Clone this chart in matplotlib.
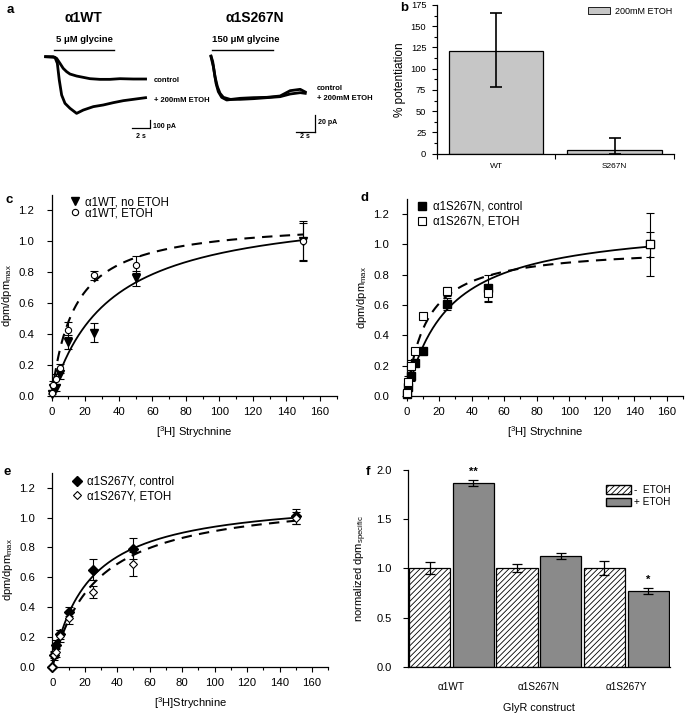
import numpy as np
import matplotlib
matplotlib.use("Agg")
import matplotlib.pyplot as plt
from matplotlib.patches import Patch

plt.rcParams['font.family'] = ['Liberation Sans', 'DejaVu Sans']
plt.rcParams['mathtext.fontset'] = 'custom'
plt.rcParams['mathtext.rm'] = 'Liberation Sans'
plt.rcParams['mathtext.it'] = 'Liberation Sans:italic'
plt.rcParams['mathtext.bf'] = 'Liberation Sans:bold'
plt.rcParams['hatch.linewidth'] = 0.6

# ---- panel a: current traces (time in s, current in pA) ----
wt_t_ctrl = [0, 0.87, 1.25, 1.63, 2.0, 2.39, 2.77, 3.52, 4.28, 5.04, 6.17, 7.31, 8.45, 9.96, 11.36]
wt_i_ctrl = [0, 0, -20, -80, -141, -181, -209, -233, -249, -265, -273, -273, -265, -269, -269]
wt_t_etoh = [0, 1.06, 1.33, 1.55, 1.82, 2.2, 2.77, 3.52, 4.28, 5.42, 6.55, 7.69, 8.83, 9.96, 11.36]
wt_i_etoh = [0, -8, -80, -281, -462, -562, -622, -683, -643, -602, -582, -554, -530, -514, -494]
n_t_ctrl = [0, 0.18, 0.42, 0.67, 0.95, 1.3, 2.0, 3.05, 4.46, 5.86, 7.26, 8.32, 9.37, 9.9]
n_i_ctrl = [0, -6.8, -24.8, -36.8, -44.8, -49.6, -52, -52, -51.2, -50, -48.8, -45.6, -44, -44.8]
n_t_etoh = [0, 0.25, 0.53, 0.77, 1.12, 1.65, 3.05, 4.46, 5.86, 7.26, 8.32, 9.37, 9.9]
n_i_etoh = [-0.8, -12.8, -32.8, -42.8, -49.6, -52.8, -50.8, -50, -49.6, -48, -41.6, -40, -43.2]
wt_glycine = (0.98, 7.8)
n_glycine = (0.14, 6.49)

# ---- panel b ----
b_labels = ['WT', 'S267N']
b_values = [121, 4]
b_err_lo = [43, 4]
b_err_hi = [44, 14]

# ---- panels c-e: binding curves ----
conc = [0, 1, 2.5, 5, 10, 25, 50, 150]
c_ctrl = [0.01, 0.05, 0.05, 0.14, 0.35, 0.41, 0.76, 1.0]
c_ctrl_err = [0.01, 0.02, 0.02, 0.03, 0.045, 0.06, 0.05, 0.12]
c_etoh = [0.02, 0.07, 0.11, 0.18, 0.43, 0.78, 0.85, 1.0]
c_etoh_err = [0.01, 0.03, 0.03, 0.03, 0.05, 0.03, 0.055, 0.13]
c_fit_ctrl = (1.241, 34.6)   # Bmax, Kd
c_fit_etoh = (1.140, 13.7)

d_ctrl = [0.01, 0.06, 0.13, 0.22, 0.30, 0.61, 0.71, 1.0]
d_ctrl_err = [0.01, 0.03, 0.03, 0.02, 0.02, 0.04, 0.09, 0.08]
d_etoh = [0.02, 0.09, 0.20, 0.30, 0.53, 0.69, 0.68, 1.0]
d_etoh_err = [0.02, 0.04, 0.04, 0.02, 0.02, 0.03, 0.05, 0.21]
d_fit_ctrl = (1.153, 25.3)
d_fit_etoh = (0.990, 12.4)

e_ctrl = [0.0, 0.08, 0.15, 0.22, 0.37, 0.65, 0.79, 1.01]
e_ctrl_err = [0.0, 0.02, 0.03, 0.03, 0.03, 0.07, 0.07, 0.05]
e_etoh = [0.0, 0.08, 0.10, 0.21, 0.33, 0.50, 0.69, 1.0]
e_etoh_err = [0.0, 0.03, 0.03, 0.04, 0.04, 0.04, 0.08, 0.04]
e_fit_ctrl = (1.147, 22.2)
e_fit_etoh = (1.155, 27.0)

# ---- panel f ----
f_constructs = ['\u03b11WT', '\u03b11S267N', '\u03b11S267Y']
f_minus = [1.0, 1.0, 1.0]
f_minus_err = [0.06, 0.04, 0.07]
f_plus = [1.87, 1.13, 0.77]
f_plus_err = [0.03, 0.03, 0.03]
f_stars = ['**', '', '*']

W, H = 685, 713
fig = plt.figure(figsize=(W / 100, H / 100), dpi=100)


def px_axes(x0, y0, x1, y1):
    return fig.add_axes([x0 / W, 1 - y1 / H, (x1 - x0) / W, (y1 - y0) / H])


def ftext(x, y, s, **kw):
    fig.text(x / W, 1 - y / H, s, **kw)


def style_axes(ax):
    for side in ['top', 'right']:
        ax.spines[side].set_visible(False)
    for side in ['left', 'bottom']:
        ax.spines[side].set_linewidth(0.9)
    ax.tick_params(direction='out', length=3.5, width=0.8)
    ax.tick_params(which='minor', direction='out', length=2, width=0.8)


# ---------- panel a ----------
ax_wt = px_axes(40, 45, 160, 140)
ax_wt.set_xlim(-0.64, 13.0)
ax_wt.set_ylim(-1004, 141)
ax_wt.axis('off')
ax_wt.plot(wt_t_ctrl, wt_i_ctrl, color='black', lw=2.0)
ax_wt.plot(wt_t_etoh, wt_i_etoh, color='black', lw=2.0)
ax_wt.plot(wt_glycine, [80, 80], color='black', lw=1.0)
ax_wt.plot([9.77, 11.77], [-863, -863], color='black', lw=0.9)
ax_wt.plot([11.86, 11.86], [-863, -763], color='black', lw=0.9)

ax_n = px_axes(205, 45, 330, 140)
ax_n.set_xlim(-0.63, 12.5)
ax_n.set_ylim(-100.8, 13.2)
ax_n.axis('off')
ax_n.plot(n_t_ctrl, n_i_ctrl, color='black', lw=2.0)
ax_n.plot(n_t_etoh, n_i_etoh, color='black', lw=2.0)
ax_n.plot(n_glycine, [7.2, 7.2], color='black', lw=1.0)
ax_n.plot([8.95, 10.95], [-90.8, -90.8], color='black', lw=0.9)
ax_n.plot([10.95, 10.95], [-90.8, -70.8], color='black', lw=0.9)

ftext(7, 10, 'a', fontsize=9.5, fontweight='bold', va='center')
ftext(83, 18, '\u03b11WT', fontsize=10, fontweight='bold', ha='center', va='center')
ftext(255, 18, '\u03b11S267N', fontsize=10, fontweight='bold', ha='center', va='center')
ftext(84, 39, '5 \u03bcM glycine', fontsize=6.8, fontweight='bold', ha='center', va='center')
ftext(246, 39, '150 \u03bcM glycine', fontsize=6.8, fontweight='bold', ha='center', va='center')
ftext(154, 80, 'control', fontsize=5.5, fontweight='bold', va='center')
ftext(154, 100, '+ 200mM ETOH', fontsize=5.5, fontweight='bold', va='center')
ftext(153, 126, '100 pA', fontsize=5, fontweight='bold', va='center')
ftext(141, 136, '2 s', fontsize=5, fontweight='bold', ha='center', va='center')
ftext(317, 89, 'control', fontsize=5.5, fontweight='bold', va='center')
ftext(317, 98, '+ 200mM ETOH', fontsize=5.5, fontweight='bold', va='center')
ftext(318, 122, '20 pA', fontsize=5, fontweight='bold', va='center')
ftext(305, 137, '2 s', fontsize=5, fontweight='bold', ha='center', va='center')

# ---------- panel b ----------
ax_b = px_axes(436.7, 5, 674, 153.7)
style_axes(ax_b)
xb = np.arange(len(b_labels))
ax_b.bar(xb, b_values, width=0.8, color='#c6c6c6', edgecolor='black', linewidth=0.9)
ax_b.errorbar(xb, b_values, yerr=[b_err_lo, b_err_hi], fmt='none', ecolor='black',
              elinewidth=1.2, capsize=4.5, capthick=1.2)
ax_b.set_xlim(-0.5, 1.5)
ax_b.set_ylim(0, 175)
ax_b.set_yticks(np.arange(0, 176, 25))
ax_b.set_yticks(np.arange(12.5, 175, 25), minor=True)
ax_b.set_xticks([-0.5, 0.5, 1.5])
ax_b.set_xticklabels([])
ax_b.set_xticks(xb, minor=True)
ax_b.set_xticklabels(b_labels, minor=True)
ax_b.tick_params(axis='x', which='minor', length=0, pad=7, labelsize=6)
ax_b.tick_params(axis='y', labelsize=6.7, pad=4)
ax_b.set_ylabel('% potentiation', fontsize=8.5, labelpad=3)
ax_b.legend(handles=[Patch(facecolor='#c6c6c6', edgecolor='black', linewidth=0.6, label='200mM ETOH')],
            loc='upper right', bbox_to_anchor=(1.01, 1.02), frameon=False, fontsize=6.5,
            handlelength=2.4, handleheight=0.9, handletextpad=0.5, borderpad=0)
ftext(400, 8, 'b', fontsize=9.5, fontweight='bold', va='center')


# ---------- panels c, d, e ----------
def binding_panel(ax, ctrl, ctrl_err, etoh, etoh_err, fit_ctrl, fit_etoh,
                  ctrl_marker, ctrl_ms, etoh_marker, etoh_ms, labels, xlabel,
                  leg_anchor, leg_spacing):
    style_axes(ax)
    ax.tick_params(axis='y', labelsize=8.2, pad=9)
    ax.tick_params(axis='x', labelsize=8.2, pad=4.5)
    xs = np.linspace(0, 150, 300)
    ax.plot(xs, fit_ctrl[0] * xs / (fit_ctrl[1] + xs), color='black', lw=1.3)
    ax.plot(xs, fit_etoh[0] * xs / (fit_etoh[1] + xs), color='black', lw=1.5,
            dashes=(5, 3.5))
    ax.errorbar(conc, ctrl, yerr=ctrl_err, fmt='none', ecolor='black', elinewidth=0.8,
                capsize=3.2, capthick=0.8, clip_on=False)
    ax.errorbar(conc, etoh, yerr=etoh_err, fmt='none', ecolor='black', elinewidth=0.8,
                capsize=3.2, capthick=0.8, clip_on=False)
    h1, = ax.plot(conc, ctrl, ls='none', marker=ctrl_marker, ms=ctrl_ms,
                  mfc='black', mec='black', clip_on=False, zorder=4)
    h2, = ax.plot(conc, etoh, ls='none', marker=etoh_marker, ms=etoh_ms,
                  mfc='white', mec='black', mew=0.8, clip_on=False, zorder=5)
    ax.set_xlim(0, 170)
    ax.set_ylim(0, 1.3)
    ax.set_xticks(np.arange(0, 161, 20))
    ax.set_xticks(np.arange(10, 171, 10), minor=True)
    ax.set_yticks(np.arange(0, 1.21, 0.2))
    ax.set_yticklabels(['%.1f' % v for v in np.arange(0, 1.21, 0.2)])
    ax.set_ylabel('dpm/dpm$_\\mathrm{max}$', fontsize=8, labelpad=3)
    ax.set_xlabel(xlabel, fontsize=8, labelpad=5)
    ax.legend([h1, h2], labels, loc='upper left', bbox_to_anchor=leg_anchor,
              frameon=False, fontsize=8.3, handlelength=0.8, handletextpad=0.5,
              borderpad=0, borderaxespad=0, labelspacing=leg_spacing)


ax_c = px_axes(51.7, 195, 336.7, 396)
binding_panel(ax_c, c_ctrl, c_ctrl_err, c_etoh, c_etoh_err, c_fit_ctrl, c_fit_etoh,
              'v', 6, 'o', 4.5, ['\u03b11WT, no ETOH', '\u03b11WT, ETOH'],
              '[$^3$H] Strychnine', (0.064, 0.995), -0.05)
ftext(5, 200, 'c', fontsize=9.5, fontweight='bold', va='center')

ax_d = px_axes(406.7, 199, 683, 396)
binding_panel(ax_d, d_ctrl, d_ctrl_err, d_etoh, d_etoh_err, d_fit_ctrl, d_fit_etoh,
              's', 5.5, 's', 5.5, ['\u03b11S267N, control', '\u03b11S267N, ETOH'],
              '[$^3$H] Strychnine', (0.04, 0.99), 0.25)
ftext(361, 198, 'd', fontsize=9.5, fontweight='bold', va='center')

ax_e = px_axes(52.3, 472.7, 328.3, 667)
binding_panel(ax_e, e_ctrl, e_ctrl_err, e_etoh, e_etoh_err, e_fit_ctrl, e_fit_etoh,
              'D', 5, 'D', 4, ['\u03b11S267Y, control', '\u03b11S267Y, ETOH'],
              '[$^3$H]Strychnine', (0.073, 0.985), 0.25)
ftext(4, 472, 'e', fontsize=9.5, fontweight='bold', va='center')

# ---------- panel f ----------
ax_f = px_axes(407.7, 470, 670, 666.7)
style_axes(ax_f)
grp = np.arange(len(f_constructs))
ax_f.bar(2 * grp, f_minus, width=0.94, color='white', edgecolor='black', linewidth=0.9,
         hatch='//////')
ax_f.bar(2 * grp + 1, f_plus, width=0.94, color='#8a8a8a', edgecolor='black', linewidth=0.9)
ax_f.errorbar(2 * grp, f_minus, yerr=f_minus_err, fmt='none', ecolor='black',
              elinewidth=0.9, capsize=3.5, capthick=0.9)
ax_f.errorbar(2 * grp + 1, f_plus, yerr=f_plus_err, fmt='none', ecolor='black',
              elinewidth=0.9, capsize=3.5, capthick=0.9)
for i, s in enumerate(f_stars):
    if s:
        ax_f.text(2 * i + 1, f_plus[i] + f_plus_err[i] + 0.03, s, ha='center',
                  va='bottom', fontsize=8, fontweight='bold')
ax_f.set_xlim(-0.5, 5.5)
ax_f.set_ylim(0, 2.0)
ax_f.set_yticks(np.arange(0, 2.01, 0.5))
ax_f.set_yticklabels(['%.1f' % v for v in np.arange(0, 2.01, 0.5)])
ax_f.tick_params(axis='y', labelsize=8, pad=8)
ax_f.set_xticks(2 * grp + 0.5)
ax_f.set_xticklabels(f_constructs)
ax_f.tick_params(axis='x', length=0, pad=11, labelsize=7.2)
ax_f.set_ylabel('normalized dpm$_\\mathrm{specific}$', fontsize=8, labelpad=5)
ax_f.set_xlabel('GlyR construct', fontsize=7.8, labelpad=8)
ax_f.legend(handles=[Patch(facecolor='white', edgecolor='black', hatch='//////', label='-  ETOH'),
                     Patch(facecolor='#8a8a8a', edgecolor='black', label='+ ETOH')],
            loc='upper right', bbox_to_anchor=(1.02, 0.95), frameon=False, fontsize=7.2,
            handlelength=2.5, handleheight=0.9, handletextpad=0.3, borderpad=0,
            labelspacing=0.25)
ftext(366, 472, 'f', fontsize=9.5, fontweight='bold', va='center')

fig.savefig('out.png', dpi=100)
